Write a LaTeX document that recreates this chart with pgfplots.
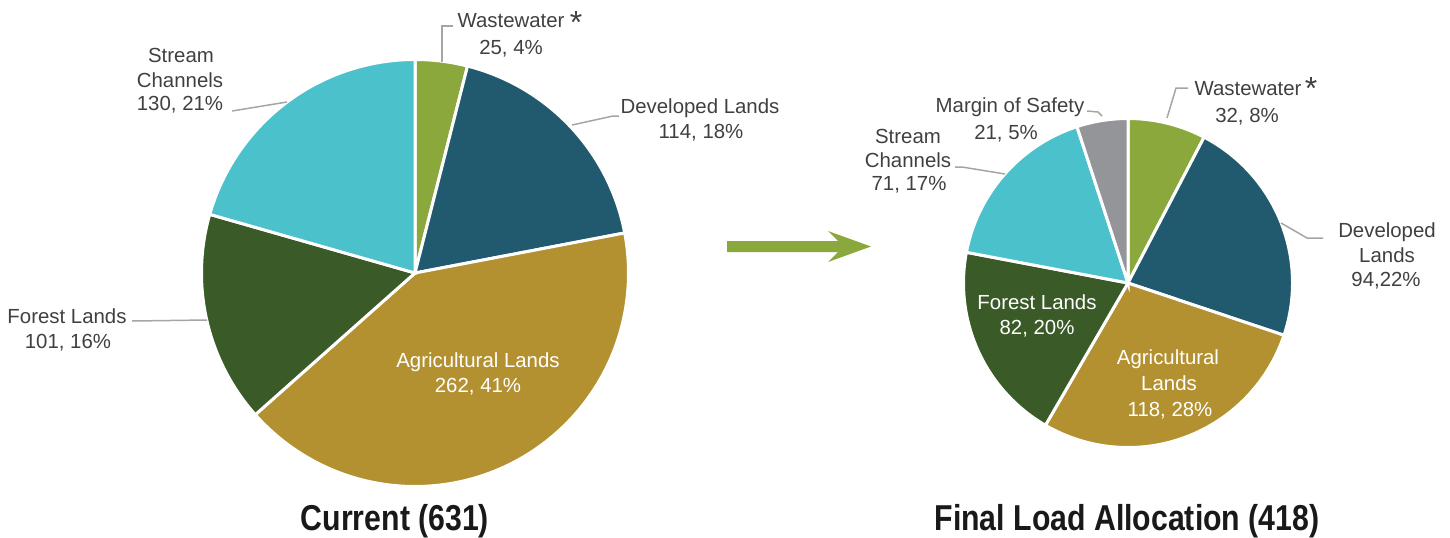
\documentclass[border=0pt]{standalone}
\usepackage{pgfplots}
\pgfplotsset{compat=1.18}
\usepackage{fontspec}
\setmainfont{Liberation Sans}
\newfontfamily\titlefont[FakeStretch=0.84]{Liberation Sans Bold}
\definecolor{cWaste}{HTML}{8AA83C}
\definecolor{cDev}{HTML}{215A6E}
\definecolor{cAgri}{HTML}{B39131}
\definecolor{cForest}{HTML}{3A5A28}
\definecolor{cStream}{HTML}{4BC1CC}
\definecolor{cMargin}{HTML}{939598}
\definecolor{cText}{HTML}{404040}
\definecolor{cLead}{HTML}{A5A5A5}
% #1 cx, #2 cy, #3 radius, #4 total, #5 cumulative before, #6 value, #7 colour
\newcommand{\pieslice}[7]{%
  \addplot[draw=white, line width=1.5pt, fill=#7, domain=90-360*(#5+#6)/#4:90-360*(#5)/#4,
    samples=120, variable=\t] ({#1+#3*cos(\t)},{#2-#3*sin(\t)}) -- (axis cs:#1,#2) -- cycle;}
\begin{document}
\begin{tikzpicture}[
  lbl/.style={font=\fontsize{10.2}{12}\selectfont, text=cText, inner sep=0pt, anchor=base},
  wlbl/.style={font=\fontsize{10.2}{12}\selectfont, text=white, inner sep=0pt, anchor=base},
  lead/.style={draw=cLead, line width=0.75pt}]
\begin{axis}[hide axis, scale only axis, width=725pt, height=268.5pt,
  xmin=0, xmax=1450, ymin=0, ymax=537, y dir=reverse, clip=false]
% ---- Current (631): Wastewater 25, Developed 114, Agricultural 262, Forest 101, Stream 130
\pieslice{415}{273}{213.5}{632}{0}{25}{cWaste}
\pieslice{415}{273}{213.5}{632}{25}{114}{cDev}
\pieslice{415}{273}{213.5}{632}{139}{262}{cAgri}
\pieslice{415}{273}{213.5}{632}{401}{101}{cForest}
\pieslice{415}{273}{213.5}{632}{502}{130}{cStream}
% ---- Final Load Allocation (418): Wastewater 32, Developed 94, Agricultural 118, Forest 82, Stream 71, Margin 21
\pieslice{1128}{283}{164.5}{418}{0}{32}{cWaste}
\pieslice{1128}{283}{164.5}{418}{32}{94}{cDev}
\pieslice{1128}{283}{164.5}{418}{126}{118}{cAgri}
\pieslice{1128}{283}{164.5}{418}{244}{82}{cForest}
\pieslice{1128}{283}{164.5}{418}{326}{71}{cStream}
\pieslice{1128}{283}{164.5}{418}{397}{21}{cMargin}
% ---- leader lines
\draw[lead] (axis cs:442,62) -- (axis cs:442,26) -- (axis cs:453,26);
\draw[lead] (axis cs:572,125) -- (axis cs:613,116) -- (axis cs:619,116);
\draw[lead] (axis cs:287,102) -- (axis cs:232,111);
\draw[lead] (axis cs:207,320) -- (axis cs:132,321);
\draw[lead] (axis cs:1167,118) -- (axis cs:1176,88) -- (axis cs:1188,88);
\draw[lead] (axis cs:1281,223) -- (axis cs:1307,238) -- (axis cs:1323,238);
\draw[lead] (axis cs:1005,174) -- (axis cs:962,167) -- (axis cs:955,167);
\draw[lead] (axis cs:1087,111) -- (axis cs:1098,112) -- (axis cs:1102,116);
% ---- labels, Current
\node[lbl] at (axis cs:511,27) {Wastewater};
\node[lbl] at (axis cs:511,54) {25, 4\%};
\node[text=cText, inner sep=0pt, font=\fontsize{16}{16}\selectfont] at (axis cs:576,22) {*};
\node[lbl] at (axis cs:700,113) {Developed Lands};
\node[lbl] at (axis cs:701,138) {114, 18\%};
\node[lbl] at (axis cs:181,62) {Stream};
\node[lbl] at (axis cs:180,87) {Channels};
\node[lbl] at (axis cs:180,110) {130, 21\%};
\node[lbl] at (axis cs:67,323) {Forest Lands};
\node[lbl] at (axis cs:68,348) {101, 16\%};
\node[wlbl] at (axis cs:478,367) {Agricultural Lands};
\node[wlbl] at (axis cs:478,392) {262, 41\%};
% ---- labels, Final
\node[lbl] at (axis cs:1010,112) {Margin of Safety};
\node[lbl] at (axis cs:1006,139) {21, 5\%};
\node[lbl] at (axis cs:1248,95) {Wastewater};
\node[lbl] at (axis cs:1247,122) {32, 8\%};
\node[text=cText, inner sep=0pt, font=\fontsize{16}{16}\selectfont] at (axis cs:1311,88) {*};
\node[lbl] at (axis cs:908,143) {Stream};
\node[lbl] at (axis cs:908,167) {Channels};
\node[lbl] at (axis cs:909,190) {71, 17\%};
\node[lbl] at (axis cs:1387,237) {Developed};
\node[lbl] at (axis cs:1387,262) {Lands};
\node[lbl] at (axis cs:1386,286) {94,22\%};
\node[wlbl] at (axis cs:1037,309) {Forest Lands};
\node[wlbl] at (axis cs:1037,334) {82, 20\%};
\node[wlbl] at (axis cs:1168,364) {Agricultural};
\node[wlbl] at (axis cs:1169,390) {Lands};
\node[wlbl] at (axis cs:1170,416) {118, 28\%};
% ---- titles
\node[anchor=base, inner sep=0pt, font=\titlefont\fontsize{18}{20}\selectfont, text=black!90] at (axis cs:395,530) {Current (631)};
\node[anchor=base, inner sep=0pt, font=\titlefont\fontsize{18}{20}\selectfont, text=black!90] at (axis cs:1127,530) {Final Load Allocation (418)};
% ---- arrow
\fill[cWaste] (axis cs:727,241) -- (axis cs:838,241) -- (axis cs:828,231) -- (axis cs:871,246.5)
  -- (axis cs:828,262) -- (axis cs:838,252) -- (axis cs:727,252) -- cycle;
\end{axis}
\pgfresetboundingbox
\path (current axis.south west) rectangle (current axis.north east);
\end{tikzpicture}
\end{document}
